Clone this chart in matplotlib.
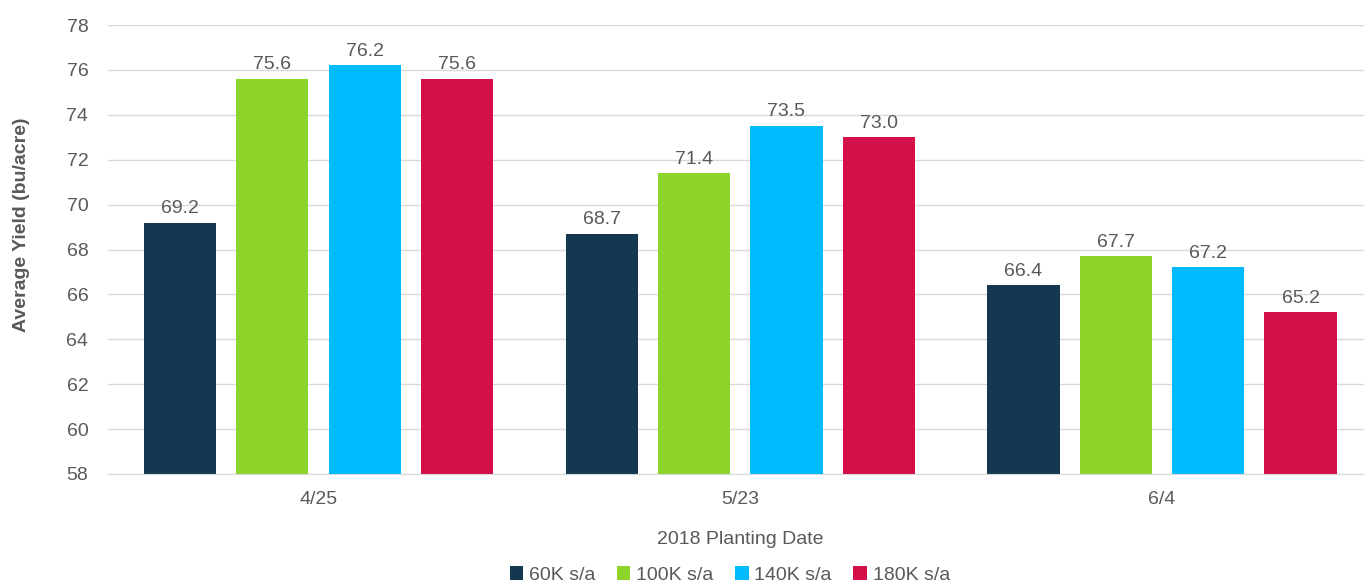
import numpy as np
import matplotlib.pyplot as plt

plt.rcParams['font.family'] = ['Liberation Sans', 'DejaVu Sans']

dates = ['4/25', '5/23', '6/4']
series = ['60K s/a', '100K s/a', '140K s/a', '180K s/a']
y60 = [69.2, 68.7, 66.4]
y100 = [75.6, 71.4, 67.7]
y140 = [76.2, 73.5, 67.2]
y180 = [75.6, 73.0, 65.2]
colors = ['#14384f', '#8cd32a', '#00bbff', '#d3104a']

grey = '#595959'

fig = plt.figure(figsize=(13.64, 5.83), dpi=100)
ax = fig.add_axes([0.079, 0.187, 0.921, 0.77])

x = np.arange(len(dates))
step = 0.219
width = 0.171
for i, (vals, name) in enumerate(zip([y60, y100, y140, y180], series)):
    pos = x + (i - 1.5) * step
    ax.bar(pos, np.array(vals) - 58, bottom=58, width=width, color=colors[i],
           label=name, zorder=3)
    for p, v in zip(pos, vals):
        ax.text(p, v + 0.25, '%.1f' % v, ha='center', va='bottom',
                fontsize=14, color=grey)

ax.set_ylim(58, 78)
ax.set_xlim(-0.5, 2.479)
ax.set_yticks(np.arange(58, 79, 2))
ax.set_xticks(x)
ax.set_xticklabels(dates)
ax.tick_params(length=0, labelsize=14, colors=grey)
ax.tick_params(axis='x', pad=12)
ax.tick_params(axis='y', pad=14)
ax.grid(axis='y', color='#d9d9d9', lw=1, zorder=0)
for s in ['top', 'right', 'left']:
    ax.spines[s].set_visible(False)
ax.spines['bottom'].set_color('#d9d9d9')
ax.spines['bottom'].set_zorder(4)

fig.text(0.016, 0.614, 'Average Yield (bu/acre)', rotation=90, ha='center',
         va='center', fontsize=14, fontweight='bold', color=grey)
fig.text(0.5425, 0.075, '2018 Planting Date', ha='center', va='center',
         fontsize=14, color=grey)
fig.legend(loc='center', bbox_to_anchor=(0.535, 0.014), ncol=4, frameon=False,
           fontsize=14, labelcolor=grey, handlelength=0.7, handleheight=0.7,
           handletextpad=0.3, columnspacing=1.1)

fig.savefig('out.png', dpi=100)
